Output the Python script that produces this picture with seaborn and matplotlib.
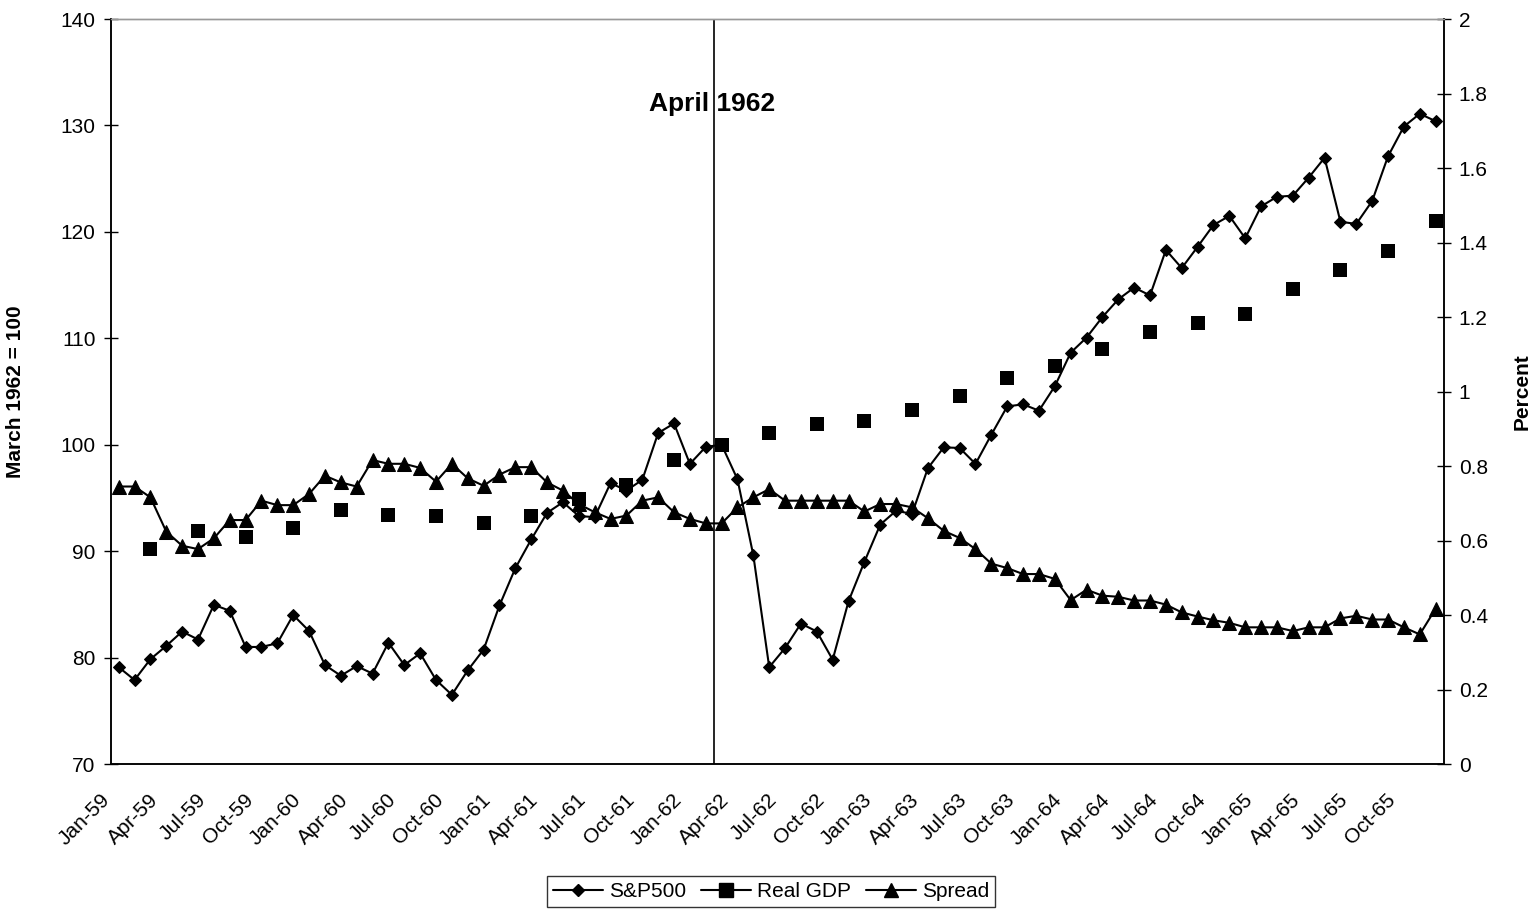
import numpy as np
import pandas as pd
import matplotlib
matplotlib.use("Agg")
import matplotlib.pyplot as plt
import matplotlib.transforms as mtransforms
from matplotlib.lines import Line2D
from matplotlib.ticker import FuncFormatter, MultipleLocator
import seaborn as sns

# ── Data ──────────────────────────────────────────────────────────────────────

months = pd.date_range("1959-01-01", periods=84, freq="MS").strftime("%b-%y").tolist()

sp500 = [
    79.1, 77.9, 79.85, 81.1, 82.45, 81.7, 84.96, 84.4, 81.0, 81.0, 81.35, 84.0,
    82.5, 79.3, 78.3, 79.2, 78.5, 81.4, 79.3, 80.4, 77.9, 76.5, 78.8, 80.75,
    84.9, 88.4, 91.1, 93.6, 94.6, 93.3, 93.2, 96.4, 95.7, 96.7, 101.1, 102.0,
    98.2, 99.8, 100.0, 96.75, 89.6, 79.1, 80.9, 83.2, 82.45, 79.8, 85.3, 89.0,
    92.5, 93.8, 93.5, 97.8, 99.75, 99.7, 98.2, 100.95, 103.6, 103.8, 103.2, 105.5,
    108.65, 110.07, 112.0, 113.66, 114.77, 114.03, 118.3, 116.6, 118.6, 120.65, 121.5, 119.4,
    122.4, 123.3, 123.4, 125.1, 126.96, 120.95, 120.75, 122.9, 127.1, 129.9, 131.1, 130.4,
]

spread = [
    0.745, 0.745, 0.716, 0.624, 0.586, 0.577, 0.606, 0.655, 0.655, 0.707, 0.695, 0.695,
    0.725, 0.774, 0.756, 0.745, 0.816, 0.806, 0.806, 0.795, 0.758, 0.806, 0.767, 0.747,
    0.777, 0.797, 0.797, 0.756, 0.734, 0.698, 0.676, 0.658, 0.667, 0.707, 0.716, 0.676,
    0.658, 0.646, 0.646, 0.689, 0.716, 0.738, 0.707, 0.707, 0.707, 0.707, 0.707, 0.678,
    0.698, 0.698, 0.689, 0.660, 0.626, 0.607, 0.577, 0.538, 0.526, 0.510, 0.510, 0.497,
    0.440, 0.468, 0.452, 0.449, 0.439, 0.439, 0.428, 0.407, 0.396, 0.386, 0.379, 0.367,
    0.367, 0.367, 0.357, 0.367, 0.367, 0.391, 0.398, 0.388, 0.388, 0.367, 0.348, 0.417,
]

# quarterly, reported in Mar / Jun / Sep / Dec
gdp_months = [m for m in months if m[:3] in ("Mar", "Jun", "Sep", "Dec")]
real_gdp = [
    90.2, 91.85, 91.36, 92.14, 93.87, 93.43, 93.33, 92.64, 93.33, 94.9,
    96.25, 98.57, 100.0, 101.08, 101.96, 102.27, 103.27, 104.62, 106.3, 107.4,
    108.96, 110.57, 111.4, 112.25, 114.63, 116.45, 118.2, 121.05,
]

event_month = "Mar-62"
event_label = "April 1962"

# ── Frames ────────────────────────────────────────────────────────────────────

monthly = pd.DataFrame({"month": months, "sp500": sp500, "spread": spread})
monthly["pos"] = np.arange(len(months))
quarterly = pd.DataFrame({"month": gdp_months, "gdp": real_gdp})
quarterly["pos"] = [months.index(m) for m in gdp_months]

# ── Plot ──────────────────────────────────────────────────────────────────────

sns.set_style("white")
plt.rcParams["font.family"] = ["Liberation Sans", "DejaVu Sans"]
for key in ("text.color", "axes.labelcolor", "xtick.color", "ytick.color"):
    plt.rcParams[key] = "black"

fig = plt.figure(figsize=(15.38, 9.10), dpi=100)
ax = fig.add_axes([0.072, 0.1604, 0.8666, 0.8187])
ax2 = ax.twinx()

line_kw = dict(color="black", lw=1.5, markeredgecolor="black", legend=False)
sns.lineplot(data=monthly, x="pos", y="sp500", marker="D", markersize=6.3, ax=ax, **line_kw)
sns.scatterplot(data=quarterly, x="pos", y="gdp", marker="s", s=90, color="black",
                edgecolor="black", linewidth=0, ax=ax, legend=False, zorder=3)
sns.lineplot(data=monthly, x="pos", y="spread", marker="^", markersize=9.5, ax=ax2, **line_kw)

# event marker
event_x = months.index(event_month) - 0.5
ax.axvline(event_x, color="black", lw=1.2, zorder=1)
ax.annotate(event_label, xy=(event_x, 132.0), xytext=(-1, 0), textcoords="offset points",
            ha="center", va="center", fontsize=19, fontweight="bold")

# axes ranges / ticks
ax.set_xlim(-0.5, len(months) - 0.5)
ax.set_ylim(70, 140)
ax.yaxis.set_major_locator(MultipleLocator(10))
ax2.set_ylim(0, 2)
ax2.yaxis.set_major_locator(MultipleLocator(0.2))
ax2.yaxis.set_major_formatter(FuncFormatter(lambda v, _: f"{v:g}"))

label_pos = monthly["pos"][::3]
ax.set_xticks(label_pos)
ax.set_xticklabels(monthly["month"][::3], rotation=45, ha="right", va="top",
                   rotation_mode="anchor", fontsize=15)
ax.set_xticks(np.arange(-0.5, len(months)), minor=True)
ax.tick_params(axis="x", which="major", length=0, pad=19)
ax.tick_params(axis="x", which="minor", direction="inout", length=7, width=1, color="black")
shift = mtransforms.ScaledTranslation(-0.18, 0, fig.dpi_scale_trans)
for lab in ax.get_xticklabels():
    lab.set_transform(lab.get_transform() + shift)

ax.tick_params(axis="y", direction="inout", length=10, width=1, labelsize=15, pad=6)
ax2.tick_params(axis="y", direction="inout", length=10, width=1, labelsize=15, pad=6)

ax.set_xlabel("")
ax.set_ylabel("March 1962 = 100", fontsize=15, fontweight="bold")
ax.yaxis.set_label_coords(-0.064, 0.5)
ax2.set_ylabel("Percent", fontsize=15, fontweight="bold")
ax2.yaxis.set_label_coords(1.052, 0.5)

for a in (ax, ax2):
    for side in ("left", "right", "bottom"):
        a.spines[side].set_color("black")
        a.spines[side].set_linewidth(1.1)
    a.spines["top"].set_color("#999999")
    a.spines["top"].set_linewidth(1.0)

handles = [
    Line2D([], [], color="black", lw=1.5, marker="D", ms=6.3, label="S&P500"),
    Line2D([], [], color="black", lw=1.5, marker="s", ms=9.5, label="Real GDP"),
    Line2D([], [], color="black", lw=1.5, marker="^", ms=9.5, label="Spread"),
]
leg = fig.legend(handles=handles, loc="center", bbox_to_anchor=(0.5013, 0.0203), ncol=3,
                 fontsize=15, frameon=True, fancybox=False, edgecolor="black",
                 handlelength=2.4, handletextpad=0.3, columnspacing=0.7,
                 borderpad=0.3, borderaxespad=0)
leg.get_frame().set_linewidth(1.0)

fig.savefig("out.png", dpi=100)
